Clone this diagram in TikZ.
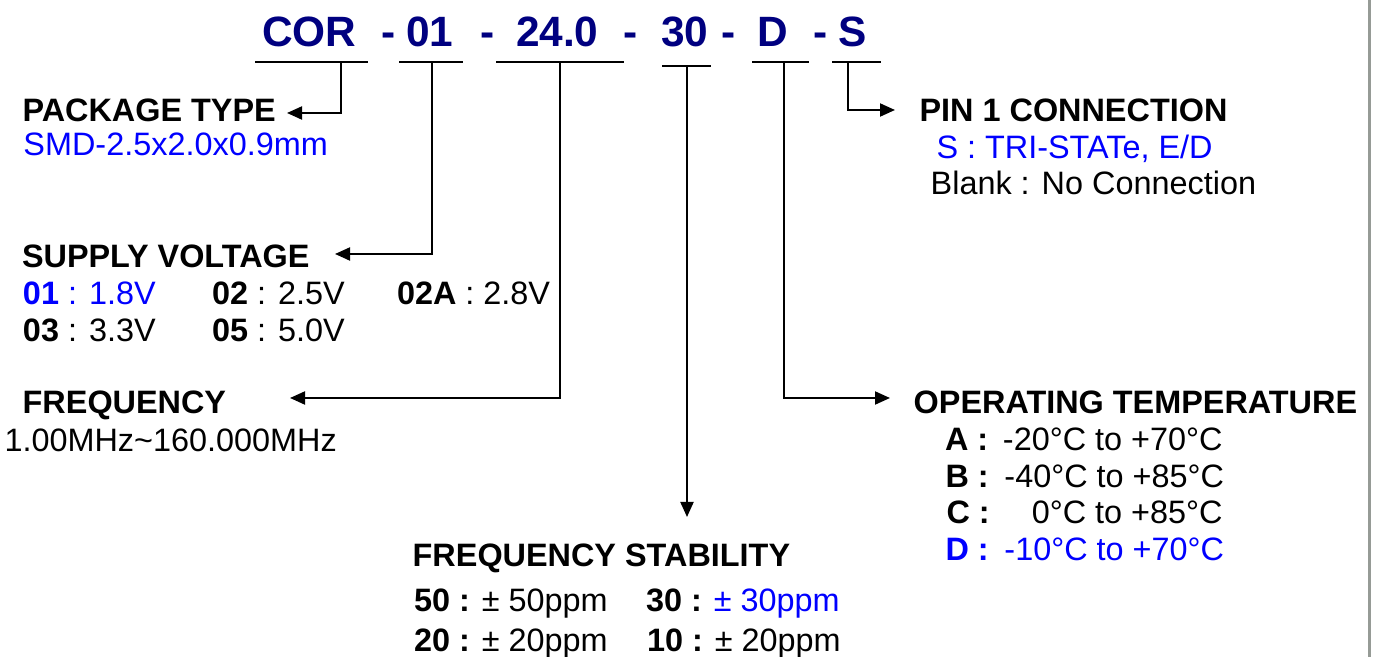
\documentclass[tikz,border=0pt]{standalone}
\usepackage{fontspec}
\setmainfont{Liberation Sans}
\usetikzlibrary{arrows.meta}
\definecolor{hdrblue}{RGB}{0,0,128}
\definecolor{optblue}{RGB}{0,0,255}
\definecolor{edgegray}{RGB}{150,155,150}
\begin{document}
\begin{tikzpicture}[x=0.5pt,y=-0.5pt,
  txt/.style={anchor=base west,inner sep=0pt,outer sep=0pt,font=\fontsize{16.2}{19}\selectfont},
  btxt/.style={txt,font=\fontsize{16.2}{19}\selectfont\bfseries},
  rtxt/.style={txt,anchor=base east},
  hdr/.style={anchor=base west,inner sep=0pt,outer sep=0pt,font=\fontsize{21.2}{24}\selectfont\bfseries,text=hdrblue},
  wire/.style={line width=1pt},
  conn/.style={wire,-{Triangle[length=7.5pt,width=6.5pt]}},
  ]
\useasboundingbox (0,0) rectangle (1373,657);
\fill[edgegray] (1368,0) rectangle (1371,657);

% header
\node[hdr] (cor) at (262,47) {COR};
\node[hdr] (h1) at (381,47) {-};
\node[hdr] (n01) at (406,47) {01};
\node[hdr] (h2) at (480,47) {-};
\node[hdr] (f24) at (516,47) {24.0};
\node[hdr] (h3) at (623,47) {-};
\node[hdr] (s30) at (661,47) {30};
\node[hdr] (h4) at (721,47) {-};
\node[hdr] (dD) at (757,47) {D};
\node[hdr] (h5) at (813,47) {-};
\node[hdr] (sS) at (838,47) {S};

% underlines
\draw[wire] (255,62) -- (368,62);
\draw[wire] (399,62) -- (463,62);
\draw[wire] (496,62) -- (624,62);
\draw[wire] (662,66) -- (711,66);
\draw[wire] (752,62) -- (809,62);
\draw[wire] (832,62) -- (881,62);

% connector ends
\coordinate (corU) at (341,62);
\coordinate (v01U) at (432,62);
\coordinate (f24U) at (560,62);
\coordinate (s30U) at (687,66);
\coordinate (dDU) at (784,62);
\coordinate (sSU) at (848,62);
\coordinate (pkgA) at (287,113);
\coordinate (supA) at (335,254);
\coordinate (freqA) at (290,398);
\coordinate (stabA) at (687,517);
\coordinate (tempA) at (890,398);
\coordinate (pinA) at (895,110);

\draw[conn] (corU) |- (pkgA);
\draw[conn] (v01U) |- (supA);
\draw[conn] (f24U) |- (freqA);
\draw[conn] (s30U) -- (stabA);
\draw[conn] (dDU) |- (tempA);
\draw[conn] (sSU) |- (pinA);

% package type
\node[btxt] (pkg) at (22.6,122) {PACKAGE TYPE};
\node[txt,text=optblue] (smd) at (23.5,156) {SMD-2.5x2.0x0.9mm};

% supply voltage
\node[btxt] (sup) at (22,268) {SUPPLY VOLTAGE};
\node[txt,text=optblue] (v1) at (23,305) {\textbf{01} : 1.8V};
\node[txt] (v2) at (212,305) {\textbf{02} : 2.5V};
\node[txt] (v3) at (397,305) {\textbf{02A} : 2.8V};
\node[txt] (v4) at (23,342) {\textbf{03} : 3.3V};
\node[txt] (v5) at (212,342) {\textbf{05} : 5.0V};

% frequency
\node[btxt] (freq) at (22.7,414) {FREQUENCY};
\node[txt] (range) at (4.5,452) {1.00MHz\textasciitilde 160.000MHz};

% frequency stability
\node[btxt] (stab) at (412.7,567) {FREQUENCY STABILITY};
\node[txt] (st1) at (414,612) {\textbf{50 :} \char"00B1\ 50ppm};
\node[txt] (st2) at (646,612) {\textbf{30 :} \textcolor{optblue}{\char"00B1\ 30ppm}};
\node[txt] (st3) at (414,652) {\textbf{20 :} \char"00B1\ 20ppm};
\node[txt] (st4) at (647,652) {\textbf{10 :} \char"00B1\ 20ppm};

% pin 1
\node[btxt] (pin) at (919.6,122) {PIN 1 CONNECTION};
\node[txt,text=optblue] (tri) at (936.5,159) {S : TRI-STATe, E/D};
\node[txt] (blank) at (930.7,195) {Blank : No Connection};

% operating temperature
\node[btxt] (temp) at (913.7,414) {OPERATING TEMPERATURE};
\node[btxt] (ta) at (945,451) {A :};
\node[rtxt] (tav) at (1222.5,451) {-20°C to +70°C};
\node[btxt] (tb) at (945.6,488) {B :};
\node[rtxt] (tbv) at (1224,488) {-40°C to +85°C};
\node[btxt] (tc) at (946.5,524) {C :};
\node[rtxt] (tcv) at (1222.5,524) {0°C to +85°C};
\node[btxt,text=optblue] (td) at (945.6,561) {D :};
\node[rtxt,text=optblue] (tdv) at (1224,561) {-10°C to +70°C};
\end{tikzpicture}
\end{document}
